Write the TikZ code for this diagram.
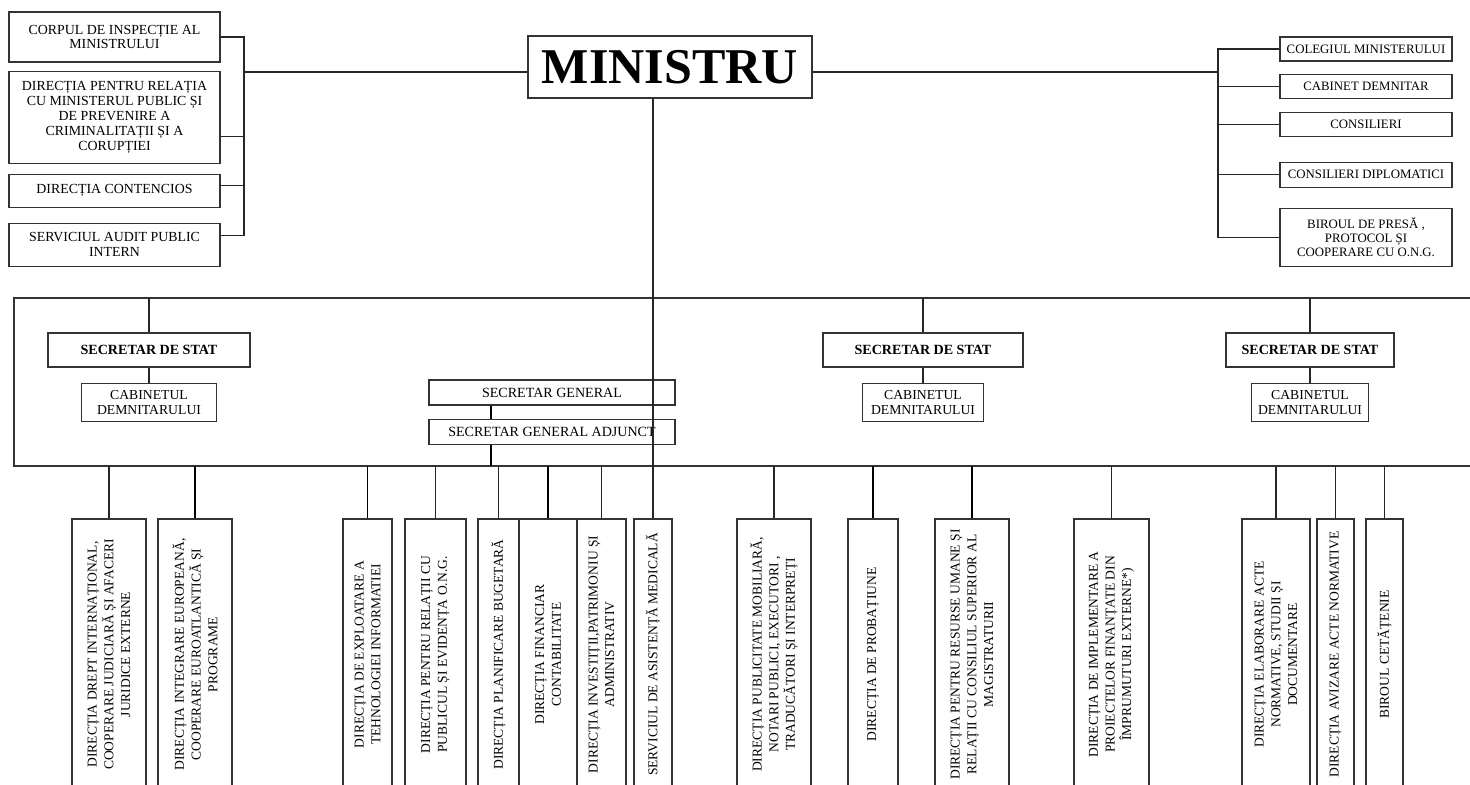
\documentclass[tikz,border=0pt]{standalone}
\usepackage{fontspec}
\setmainfont{Liberation Serif}
\usepackage{tikz}
\usetikzlibrary{positioning}

\begin{document}
\begin{tikzpicture}[
    topbox/.style={draw=black!80, line width=0.6pt, align=center, inner sep=1pt, minimum width=4.22cm, font=\fontsize{7.9pt}{8.5pt}\selectfont},
    sidebox/.style={draw=black!80, line width=0.6pt, align=center, inner sep=1pt, minimum width=3.44cm, font=\fontsize{7.3pt}{8pt}\selectfont},
    statebox/.style={draw=black!80, line width=0.7pt, minimum height=0.68cm, inner sep=1pt, font=\fontsize{8pt}{9.6pt}\selectfont\bfseries},
    cabbox/.style={draw=black!80, line width=0.6pt, minimum height=0.76cm, align=center, inner sep=1pt, font=\fontsize{7.8pt}{8.5pt}\selectfont},
    genbox/.style={draw=black!80, line width=0.6pt, minimum width=4.92cm, minimum height=0.5cm, inner sep=1pt, font=\fontsize{8pt}{9.6pt}\selectfont},
    dirbox/.style={draw=black!80, line width=0.6pt, rotate=90, minimum width=5.42cm, align=center, inner sep=1pt, font=\fontsize{7.7pt}{9.5pt}\selectfont},
    link/.style={line width=0.6pt, black!85},
    boldlink/.style={line width=1.1pt, black},
    band/.style={line width=1.1pt, black!80}
  ]
    \useasboundingbox (0,0) rectangle (29.4,15.7);

    % minister and the units next to him
    \node[draw=black!80, line width=0.6pt, minimum width=5.68cm, minimum height=1.24cm, font=\fontsize{28.5pt}{30pt}\selectfont\bfseries] (ministru) at (13.4,14.36) {MINISTRU};

    \node[topbox, minimum height=1.0cm] (corp) at (2.29,14.96) {CORPUL DE INSPECȚIE AL\\ MINISTRULUI};
    \node[topbox, minimum height=1.84cm, below=0.16cm of corp] (dpr) {DIRECȚIA PENTRU RELAȚIA\\ CU MINISTERUL PUBLIC ȘI\\ DE PREVENIRE A\\ CRIMINALITAȚII ȘI A\\ CORUPȚIEI};
    \node[topbox, minimum height=0.66cm, below=0.2cm of dpr] (cont) {DIRECȚIA CONTENCIOS};
    \node[topbox, minimum height=0.86cm, below=0.3cm of cont] (audit) {SERVICIUL AUDIT PUBLIC\\ INTERN};

    \node[sidebox, minimum height=0.48cm] (coleg) at (27.32,14.72) {COLEGIUL MINISTERULUI};
    \node[sidebox, minimum height=0.48cm, below=0.24cm of coleg] (cabd) {CABINET DEMNITAR};
    \node[sidebox, minimum height=0.48cm, below=0.26cm of cabd] (cons) {CONSILIERI};
    \node[sidebox, minimum height=0.5cm, below=0.5cm of cons] (consd) {CONSILIERI DIPLOMATICI};
    \node[sidebox, minimum height=1.16cm, below=0.4cm of consd] (birou) {BIROUL DE PRESĂ ,\\ PROTOCOL ȘI\\ COOPERARE CU O.N.G.};

    \coordinate (lbus) at (4.88,14.26);
    \coordinate (rbus) at (24.36,14.26);
    \coordinate (dprin) at ([yshift=-0.38cm]dpr.east);
    \coordinate (contin) at ([yshift=0.11cm]cont.east);
    \coordinate (auditin) at ([yshift=0.19cm]audit.east);

    \draw[link] (corp.east) -| (lbus) |- (auditin);
    \draw[link] (dprin) -- (dprin -| lbus);
    \draw[link] (contin) -- (contin -| lbus);
    \draw[link] ([yshift=-0.1cm]ministru.west) -- (lbus);

    \draw[link] (coleg.west) -| (rbus) |- (birou.west);
    \draw[link] (cabd.west) -- (cabd.west -| rbus);
    \draw[link] (cons.west) -- (cons.west -| rbus);
    \draw[link] (consd.west) -- (consd.west -| rbus);
    \draw[link] ([yshift=-0.1cm]ministru.east) -- (rbus);

    % band of the secretaries
    \coordinate (bandtl) at (0.28,9.74);
    \coordinate (bandtr) at (29.4,9.74);
    \coordinate (bandbl) at (0.28,6.38);
    \coordinate (bandbr) at (29.4,6.38);
    \draw[band] (bandtr) -- (bandtl) -- (bandbl) -- (bandbr);

    \node[statebox, minimum width=4.04cm] (sds1) at (2.98,8.7) {SECRETAR DE STAT};
    \node[cabbox, minimum width=2.7cm, below=0.3cm of sds1] (cab1) {CABINETUL\\ DEMNITARULUI};
    \node[statebox, minimum width=4.0cm] (sds2) at (18.46,8.7) {SECRETAR DE STAT};
    \node[cabbox, minimum width=2.42cm, below=0.3cm of sds2] (cab2) {CABINETUL\\ DEMNITARULUI};
    \node[statebox, minimum width=3.36cm] (sds3) at (26.2,8.7) {SECRETAR DE STAT};
    \node[cabbox, minimum width=2.34cm, below=0.3cm of sds3] (cab3) {CABINETUL\\ DEMNITARULUI};

    \node[genbox] (sg) at (11.04,7.85) {SECRETAR GENERAL};
    \node[genbox, below=0.26cm of sg] (sga) {SECRETAR GENERAL ADJUNCT};

    \draw[link] (sds1.north |- bandtl) -- (sds1.north);
    \draw[link] (sds1.south) -- (cab1.north);
    \draw[link] (sds2.north |- bandtl) -- (sds2.north);
    \draw[link] (sds2.south) -- (cab2.north);
    \draw[link] (sds3.north |- bandtl) -- (sds3.north);
    \draw[link] (sds3.south) -- (cab3.north);

    \coordinate (sgfoot) at ([xshift=-1.22cm]sg.south);
    \coordinate (sgafoot) at ([xshift=-1.22cm]sga.south);
    \draw[boldlink] (sgfoot) -- (sgfoot |- sga.north);
    \draw[boldlink] (sgafoot) -- (sgafoot |- bandbl);

    % directions under the band (rotated, east is the top)
    \node[dirbox, minimum height=1.48cm] (dia) at (2.18,2.61) {DIRECȚIA DREPT INTERNAȚIONAL,\\ COOPERARE JUDICIARĂ ȘI AFACERI\\ JURIDICE EXTERNE};
    \node[dirbox, minimum height=1.48cm] (dib) at (3.9,2.61) {DIRECȚIA INTEGRARE EUROPEANĂ,\\ COOPERARE EUROATLANTICĂ ȘI\\ PROGRAME};
    \node[dirbox, minimum height=0.98cm] (dic) at (7.35,2.61) {DIRECȚIA DE EXPLOATARE A\\ TEHNOLOGIEI INFORMATIEI};
    \node[dirbox, minimum height=1.22cm] (did) at (8.71,2.61) {DIRECȚIA PENTRU RELAȚII CU\\ PUBLICUL ȘI EVIDENȚA O.N.G.};
    \node[dirbox, minimum height=0.82cm] (die) at (9.97,2.61) {DIRECȚIA PLANIFICARE BUGETARĂ};
    \node[dirbox, minimum height=1.16cm] (dif) at (10.96,2.61) {DIRECȚIA FINANCIAR\\ CONTABILITATE};
    \node[dirbox, minimum height=0.98cm] (dig) at (12.03,2.61) {DIRECȚIA INVESTIȚII,PATRIMONIU ȘI\\ ADMINISTRATIV};
    \node[dirbox, minimum height=0.76cm] (ssm) at (13.06,2.61) {SERVICIUL DE ASISTENȚĂ MEDICALĂ};
    \node[dirbox, minimum height=1.48cm] (dii) at (15.48,2.61) {DIRECȚIA PUBLICITATE MOBILIARĂ,\\ NOTARI PUBLICI, EXECUTORI ,\\ TRADUCĂTORI ȘI INTERPREȚI};
    \node[dirbox, minimum height=1.0cm] (dij) at (17.46,2.61) {DIRECȚIA DE PROBAȚIUNE};
    \node[dirbox, minimum height=1.48cm] (dik) at (19.44,2.61) {DIRECȚIA PENTRU RESURSE UMANE ȘI\\ RELAȚII CU CONSILIUL SUPERIOR AL\\ MAGISTRATURII};
    \node[dirbox, minimum height=1.5cm] (dil) at (22.23,2.61) {DIRECȚIA DE IMPLEMENTARE A\\ PROIECTELOR FINANȚATE DIN\\ ÎMPRUMUTURI EXTERNE*)};
    \node[dirbox, minimum height=1.36cm] (dim) at (25.52,2.61) {DIRECȚIA ELABORARE ACTE\\ NORMATIVE, STUDII ȘI\\ DOCUMENTARE};
    \node[dirbox, minimum height=0.74cm] (din) at (26.71,2.61) {DIRECȚIA AVIZARE ACTE NORMATIVE};
    \node[dirbox, minimum height=0.74cm] (bc) at (27.69,2.61) {BIROUL CETĂȚENIE};

    \draw[link] ([xshift=-0.34cm]ministru.south) -- (ssm.east);
    \draw[link] (dia.east |- bandbl) -- (dia.east);
    \draw[boldlink] (dib.east |- bandbl) -- (dib.east);
    \draw[boldlink] (dic.east |- bandbl) -- (dic.east);
    \draw[link] (did.east |- bandbl) -- (did.east);
    \draw[link] (die.east |- bandbl) -- (die.east);
    \draw[boldlink] (dif.east |- bandbl) -- (dif.east);
    \draw[link] (dig.east |- bandbl) -- (dig.east);
    \draw[link] (dii.east |- bandbl) -- (dii.east);
    \draw[boldlink] (dij.east |- bandbl) -- (dij.east);
    \draw[boldlink] (dik.east |- bandbl) -- (dik.east);
    \draw[link] (dil.east |- bandbl) -- (dil.east);
    \draw[link] (dim.east |- bandbl) -- (dim.east);
    \draw[link] (din.east |- bandbl) -- (din.east);
    \draw[link] (bc.east |- bandbl) -- (bc.east);
  \end{tikzpicture}
\end{document}
